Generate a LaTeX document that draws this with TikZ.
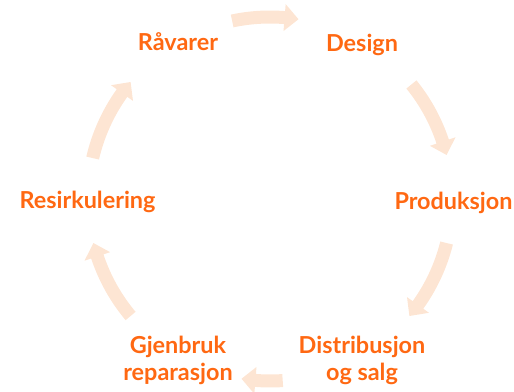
\documentclass[tikz,border=0pt]{standalone}
\usepackage{fontspec}
\setmainfont{Lato}
\usetikzlibrary{calc}
\definecolor{labelorange}{RGB}{255,104,18}
\definecolor{arrowpeach}{RGB}{253,229,211}
\tikzset{
  lbl/.style={font=\fontsize{23.4}{27}\selectfont\bfseries, text=labelorange, inner sep=0pt, align=center, anchor=base},
  arrowfill/.style={fill=arrowpeach, draw=none}
}
% #1 tail angle, #2 tip angle (clockwise)
\newcommand\cyclearrow[2]{%
  \fill[arrowfill] (#1:188.5) arc[start angle=#1, end angle=#2+4.4, radius=188.5]
    -- (#2+4.4:195.5) -- (#2:182) -- (#2+4.4:168.5) -- (#2+4.4:175.5)
    arc[start angle=#2+4.4, end angle=#1, radius=175.5] -- cycle;}
\begin{document}
\begin{tikzpicture}[x=1pt,y=1pt]
\useasboundingbox (0,0) rectangle (514,391);
\begin{scope}[shift={(270,192)}]
  \cyclearrow{102}{81}
  \cyclearrow{39}{14}
  \cyclearrow{-14}{-40}
  \cyclearrow{-86}{-99}
  \cyclearrow{220}{194}
  \cyclearrow{167}{140}
\end{scope}
\node[lbl] (raavarer) at (178,340) {Råvarer};
\node[lbl] (design) at (362,339) {Design};
\node[lbl] (produksjon) at (453.5,181) {Produksjon};
\node[lbl] (resirk) at (87.5,182) {Resirkulering};
\node[lbl] (distribusjon) at (362,11) {Distribusjon\\og salg};
\node[lbl] (gjenbruk) at (178,11) {Gjenbruk\\reparasjon};
\end{tikzpicture}
\end{document}
